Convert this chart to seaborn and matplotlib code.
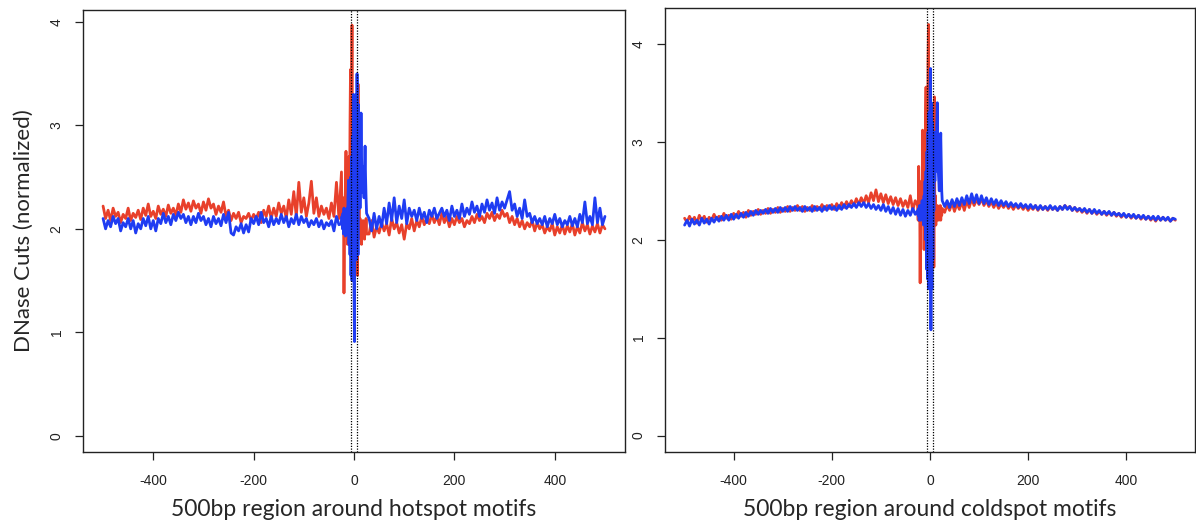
import numpy as np
import matplotlib
matplotlib.use("Agg")
import matplotlib.pyplot as plt
import seaborn as sns

# positions (bp from motif centre): coarse flanks, 1bp core
pos_left = list(range(-500, -25, 5))
pos_core = list(range(-25, 26))
pos_right = list(range(30, 501, 5))
pos = pos_left + pos_core + pos_right

# ---- hotspot motifs (left panel) ----
hot_red_left = [
    2.22, 2.1, 2.18, 2.08, 2.2, 2.12, 2.16, 2.06, 2.14, 2.1,
    2.2, 2.08, 2.15, 2.11, 2.18, 2.09, 2.2, 2.13, 2.24, 2.12,
    2.17, 2.1, 2.22, 2.14, 2.19, 2.12, 2.23, 2.15, 2.2, 2.13,
    2.24, 2.16, 2.28, 2.19, 2.25, 2.17, 2.27, 2.2, 2.24, 2.15,
    2.26, 2.18, 2.29, 2.2, 2.24, 2.14, 2.22, 2.16, 2.26, 2.12,
    2.18, 2.08, 2.15, 2.1, 2.16, 2.06, 2.12, 2.1, 2.15, 2.08,
    2.14, 2.1, 2.16, 2.06, 2.18, 2.12, 2.22, 2.1, 2.2, 2.12,
    2.25, 2.15, 2.22, 2.1, 2.28, 2.14, 2.36, 2.12, 2.45, 2.16,
    2.3, 2.12, 2.25, 2.46, 2.15, 2.3, 2.12, 2.22, 2.14, 2.2,
    2.1, 2.25, 2.12, 2.45, 2.1]
hot_red_core = [
    2.55, 2.1, 2.2, 2.05, 2.3, 1.38, 2.0, 2.2, 2.4, 2.75,
    2.1, 2.3, 1.85, 2.5, 2.2, 2.7, 2.0, 3.0, 3.54, 2.3,
    3.2, 3.97, 2.6, 3.3, 1.9, 2.9, 2.2, 3.1, 1.9, 2.7,
    1.8, 2.9, 1.55, 3.4, 2.0, 2.3, 1.95, 2.1, 1.9, 2.05,
    1.85, 2.0, 1.92, 2.08, 1.95, 2.02, 1.9, 2.05, 1.97, 2.1,
    1.95]
hot_red_right = [
    1.95, 2.08, 1.92, 2.02, 1.96, 2.06, 1.98, 2.05, 1.94, 2.1,
    2.0, 2.06, 1.96, 2.04, 1.9, 2.05, 2.0, 2.1, 1.98, 2.08,
    2.02, 2.12, 2.04, 2.1, 2.05, 2.14, 2.06, 2.12, 2.04, 2.15,
    2.06, 2.12, 2.02, 2.1, 2.04, 2.12, 2.06, 2.1, 2.02, 2.08,
    2.05, 2.12, 2.06, 2.14, 2.08, 2.12, 2.06, 2.15, 2.1, 2.16,
    2.08, 2.14, 2.1, 2.18, 2.12, 2.15, 2.06, 2.12, 2.04, 2.1,
    2.02, 2.08, 2.0, 2.06, 2.02, 2.08, 1.98, 2.06, 2.0, 2.04,
    1.96, 2.02, 1.98, 2.05, 1.94, 2.02, 1.96, 2.04, 1.95, 2.03,
    1.97, 2.05, 1.94, 2.02, 1.96, 2.06, 1.98, 2.04, 1.95, 2.03,
    1.97, 2.05, 1.96, 2.04, 2.0]

hot_blue_left = [
    2.1, 2.0, 2.08, 2.02, 2.12, 2.05, 2.1, 1.98, 2.06, 2.02,
    2.1, 2.0, 2.08, 1.96, 2.05, 2.0, 2.1, 2.03, 2.12, 2.0,
    2.08, 1.98, 2.1, 2.05, 2.15, 2.06, 2.12, 2.04, 2.14, 2.08,
    2.16, 2.1, 2.14, 2.06, 2.12, 2.04, 2.12, 2.06, 2.15, 2.08,
    2.12, 2.04, 2.1, 2.02, 2.12, 2.05, 2.1, 2.03, 2.14, 2.06,
    2.16, 1.96, 1.94, 2.02, 1.98, 2.05, 1.96, 2.04, 1.97, 2.1,
    2.05, 2.12, 2.04, 2.16, 2.06, 2.1, 2.02, 2.12, 2.04, 2.1,
    2.05, 2.14, 2.06, 2.12, 2.02, 2.1, 2.05, 2.14, 2.04, 2.12,
    2.06, 2.1, 2.02, 2.08, 2.04, 2.1, 2.02, 2.08, 2.0, 2.06,
    2.03, 2.08, 1.98, 2.12, 2.04]
hot_blue_core = [
    2.05, 2.12, 2.0, 2.15, 1.95, 2.2, 2.0, 2.1, 1.93, 2.15,
    2.05, 2.2, 1.95, 2.3, 2.47, 1.85, 2.3, 1.75, 2.5, 1.55,
    2.7, 1.5, 2.9, 1.6, 3.3, 1.4, 0.91, 3.0, 2.0, 3.3,
    1.7, 3.5, 2.4, 1.75, 3.2, 2.5, 2.9, 2.2, 2.6, 3.12,
    2.7, 2.5, 2.35, 2.6, 2.4, 2.3, 2.55, 2.8, 2.5, 2.3,
    2.15]
hot_blue_right = [
    2.1, 1.98, 2.15, 2.0, 2.12, 2.02, 2.2, 2.05, 2.25, 2.08,
    2.3, 2.06, 2.22, 2.1, 2.28, 2.05, 2.2, 2.12, 2.18, 2.08,
    2.2, 2.1, 2.16, 2.06, 2.18, 2.12, 2.2, 2.1, 2.15, 2.2,
    2.12, 2.18, 2.08, 2.22, 2.12, 2.18, 2.1, 2.24, 2.12, 2.2,
    2.14, 2.26, 2.16, 2.22, 2.12, 2.24, 2.16, 2.28, 2.18, 2.25,
    2.15, 2.3, 2.18, 2.26, 2.2, 2.28, 2.36, 2.18, 2.24, 2.12,
    2.2, 2.1, 2.28, 2.12, 2.15, 2.06, 2.12, 2.05, 2.1, 2.04,
    2.12, 2.02, 2.1, 2.05, 2.14, 2.04, 2.1, 2.02, 2.08, 2.04,
    2.12, 2.03, 2.1, 2.02, 2.14, 2.06, 2.26, 2.05, 2.12, 2.04,
    2.3, 2.06, 2.2, 2.04, 2.12]

# ---- coldspot motifs (right panel) ----
cold_red_left = [
    2.22, 2.18, 2.24, 2.19, 2.23, 2.17, 2.25, 2.2, 2.24, 2.18,
    2.23, 2.2, 2.26, 2.21, 2.24, 2.2, 2.27, 2.22, 2.25, 2.21,
    2.27, 2.23, 2.29, 2.24, 2.28, 2.23, 2.3, 2.25, 2.29, 2.26,
    2.31, 2.26, 2.3, 2.27, 2.32, 2.27, 2.31, 2.28, 2.33, 2.28,
    2.32, 2.29, 2.34, 2.29, 2.33, 2.3, 2.35, 2.3, 2.34, 2.29,
    2.33, 2.3, 2.35, 2.3, 2.34, 2.31, 2.36, 2.31, 2.35, 2.32,
    2.36, 2.31, 2.37, 2.32, 2.38, 2.33, 2.39, 2.34, 2.4, 2.35,
    2.42, 2.36, 2.43, 2.37, 2.45, 2.38, 2.48, 2.4, 2.51, 2.39,
    2.47, 2.38, 2.46, 2.37, 2.44, 2.36, 2.43, 2.35, 2.42, 2.34,
    2.4, 2.33, 2.45, 2.3, 2.4]
cold_red_core = [
    2.35, 2.2, 2.75, 2.3, 2.55, 1.56, 2.4, 2.2, 2.6, 2.25,
    3.12, 2.3, 2.7, 1.9, 2.9, 2.2, 3.2, 3.56, 2.4, 3.3,
    2.0, 3.8, 4.2, 2.5, 3.4, 1.9, 3.1, 2.2, 3.0, 1.8,
    2.9, 2.0, 3.2, 1.72, 3.46, 2.2, 2.45, 2.15, 2.3, 2.2,
    2.35, 2.25, 2.3, 2.2, 2.33, 2.25, 2.35, 2.2, 2.3, 2.25,
    2.32]
cold_red_right = [
    2.28, 2.36, 2.3, 2.38, 2.29, 2.37, 2.31, 2.39, 2.3, 2.4,
    2.33, 2.42, 2.35, 2.41, 2.36, 2.42, 2.35, 2.4, 2.34, 2.39,
    2.33, 2.38, 2.32, 2.37, 2.33, 2.37, 2.32, 2.36, 2.31, 2.36,
    2.32, 2.35, 2.31, 2.35, 2.3, 2.34, 2.31, 2.35, 2.3, 2.34,
    2.31, 2.34, 2.3, 2.34, 2.31, 2.33, 2.3, 2.34, 2.31, 2.35,
    2.32, 2.34, 2.3, 2.33, 2.29, 2.32, 2.28, 2.31, 2.27, 2.31,
    2.27, 2.3, 2.26, 2.29, 2.26, 2.29, 2.25, 2.28, 2.25, 2.28,
    2.24, 2.27, 2.23, 2.26, 2.23, 2.26, 2.22, 2.25, 2.22, 2.25,
    2.21, 2.24, 2.21, 2.24, 2.2, 2.23, 2.19, 2.23, 2.2, 2.23,
    2.2, 2.22, 2.19, 2.22, 2.2]

cold_blue_left = [
    2.15, 2.2, 2.14, 2.21, 2.16, 2.2, 2.15, 2.22, 2.17, 2.21,
    2.16, 2.22, 2.18, 2.23, 2.19, 2.24, 2.2, 2.25, 2.2, 2.26,
    2.21, 2.26, 2.22, 2.27, 2.23, 2.28, 2.24, 2.29, 2.25, 2.3,
    2.26, 2.3, 2.27, 2.31, 2.27, 2.32, 2.28, 2.32, 2.28, 2.33,
    2.29, 2.33, 2.29, 2.34, 2.3, 2.34, 2.3, 2.33, 2.29, 2.34,
    2.3, 2.33, 2.29, 2.34, 2.3, 2.33, 2.29, 2.34, 2.3, 2.35,
    2.31, 2.34, 2.3, 2.35, 2.31, 2.36, 2.32, 2.36, 2.33, 2.37,
    2.33, 2.38, 2.34, 2.38, 2.33, 2.37, 2.32, 2.36, 2.31, 2.35,
    2.3, 2.36, 2.29, 2.34, 2.27, 2.33, 2.26, 2.32, 2.25, 2.31,
    2.24, 2.3, 2.25, 2.32, 2.26]
cold_blue_core = [
    2.3, 2.25, 2.32, 2.2, 2.35, 2.28, 2.2, 2.35, 2.25, 2.4,
    2.2, 2.3, 2.15, 2.45, 2.3, 2.6, 2.0, 2.7, 1.7, 2.9,
    1.6, 3.1, 1.5, 3.3, 1.7, 3.5, 3.75, 1.08, 3.4, 1.5,
    3.2, 1.8, 3.0, 2.3, 3.1, 2.6, 2.9, 2.7, 3.0, 3.2,
    3.4, 2.9, 2.7, 2.6, 2.5, 2.8, 2.9, 3.09, 2.8, 2.5,
    2.4]
cold_blue_right = [
    2.34, 2.4, 2.33, 2.41, 2.34, 2.42, 2.35, 2.43, 2.36, 2.45,
    2.37, 2.47, 2.38, 2.46, 2.37, 2.45, 2.37, 2.43, 2.36, 2.42,
    2.36, 2.41, 2.35, 2.4, 2.35, 2.39, 2.34, 2.38, 2.34, 2.37,
    2.33, 2.37, 2.33, 2.36, 2.32, 2.36, 2.32, 2.35, 2.31, 2.35,
    2.31, 2.34, 2.31, 2.35, 2.31, 2.34, 2.3, 2.34, 2.31, 2.35,
    2.31, 2.34, 2.3, 2.33, 2.3, 2.32, 2.29, 2.32, 2.28, 2.31,
    2.27, 2.31, 2.27, 2.3, 2.26, 2.29, 2.26, 2.29, 2.25, 2.28,
    2.25, 2.27, 2.24, 2.27, 2.23, 2.26, 2.23, 2.26, 2.22, 2.25,
    2.22, 2.25, 2.21, 2.24, 2.21, 2.24, 2.2, 2.24, 2.2, 2.23,
    2.2, 2.23, 2.19, 2.22, 2.21]

hot_red = hot_red_left + hot_red_core + hot_red_right
hot_blue = hot_blue_left + hot_blue_core + hot_blue_right
cold_red = cold_red_left + cold_red_core + cold_red_right
cold_blue = cold_blue_left + cold_blue_core + cold_blue_right

motif_edges = [-5.5, 6]
x_ticks = [-400, -200, 0, 200, 400]
y_ticks = [0, 1, 2, 3, 4]

RED = "#e8402b"
BLUE = "#1f3cf2"

sns.set_theme(style="ticks")
plt.rcParams["font.family"] = ["Liberation Sans", "DejaVu Sans"]
plt.rcParams["axes.unicode_minus"] = False

fig = plt.figure(figsize=(11.96, 5.22), dpi=100)
ax1 = fig.add_axes([0.0694, 0.1341, 0.4532, 0.8475])
ax2 = fig.add_axes([0.5560, 0.1341, 0.4431, 0.8506])

panels = [
    (ax1, hot_red, hot_blue, (-0.158, 4.12), "500bp region around hotspot motifs"),
    (ax2, cold_red, cold_blue, (-0.168, 4.368), "500bp region around coldspot motifs"),
]

for ax, red, blue, ylim, xlabel in panels:
    sns.lineplot(x=pos, y=red, color=RED, linewidth=2.0, ax=ax)
    sns.lineplot(x=pos, y=blue, color=BLUE, linewidth=2.0, ax=ax)
    for e in motif_edges:
        ax.axvline(e, color="black", linestyle=(0, (1, 1.2)), linewidth=0.9)
    ax.set_xlim(-540, 540)
    ax.set_ylim(*ylim)
    ax.set_xticks(x_ticks)
    ax.set_yticks(y_ticks)
    ax.set_xticklabels([str(t) for t in x_ticks])
    ax.set_yticklabels([str(t) for t in y_ticks], rotation=90, va="center")
    ax.tick_params(axis="both", length=6, width=0.9, labelsize=10, color="#222222",
                   labelcolor="#222222", direction="out")
    ax.tick_params(axis="x", pad=10)
    ax.tick_params(axis="y", pad=8)
    for sp in ax.spines.values():
        sp.set_visible(True)
        sp.set_linewidth(1.0)
        sp.set_color("#222222")
    ax.set_xlabel(xlabel, fontsize=16.5, family=["Lato", "DejaVu Sans"], labelpad=8)
    ax.set_ylabel("")

ax1.set_ylabel("DNase Cuts (normalized)", fontsize=16, family=["Lato", "DejaVu Sans"], labelpad=11)

fig.savefig("out.png", dpi=100)
